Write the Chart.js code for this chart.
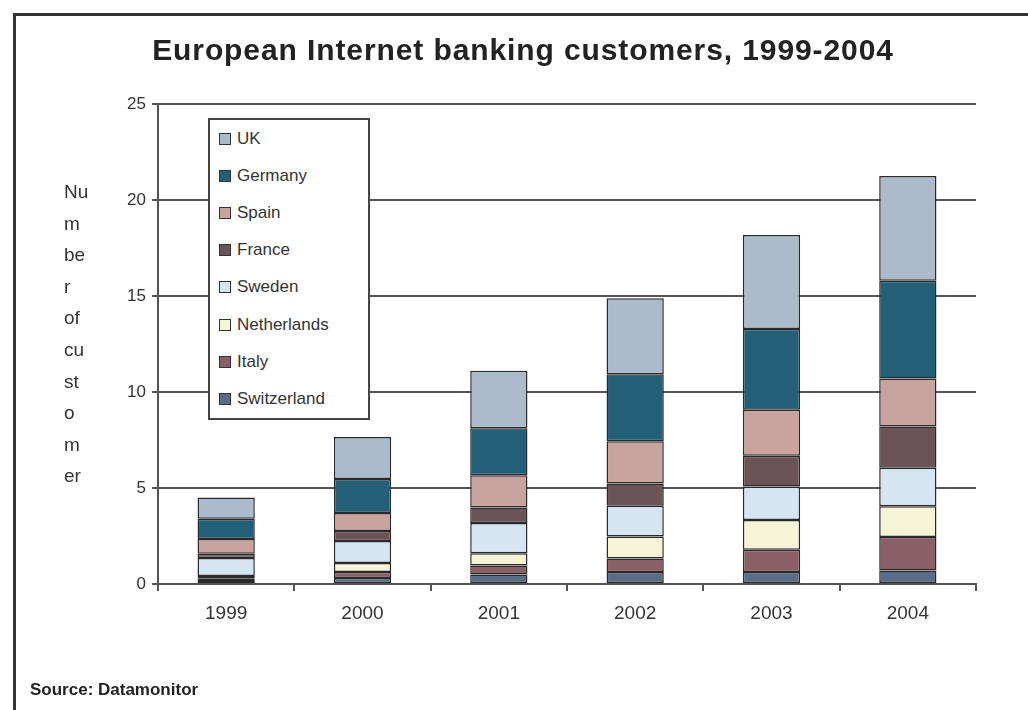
<!DOCTYPE html>
<html>
<head>
<meta charset="utf-8">
<script src="https://cdn.jsdelivr.net/npm/chart.js@4.4.1/dist/chart.umd.min.js"></script>
<style>
  html, body { margin: 0; padding: 0; background: #fff; }
  #wrap { position: relative; width: 1028px; height: 710px; overflow: hidden; font-family: "Liberation Sans", Arial, sans-serif; color: #333; }
  #frame { position: absolute; left: 13px; top: 13px; width: 1100px; height: 800px; border-left: 3px solid #333; border-top: 3px solid #333; }
  #title { position: absolute; left: 0; width: 1046px; top: 33px; text-align: center; font-weight: bold; font-size: 30px; letter-spacing: 0.9px; color: #222; }
  #ytitle { position: absolute; left: 64px; top: 176px; font-size: 19px; line-height: 31.6px; color: #333; }
  #legend { position: absolute; left: 208px; top: 118px; width: 158px; height: 298px; border: 2px solid #444; background: #fff; }
  .item { position: absolute; left: 9px; height: 20px; font-size: 17px; line-height: 20px; color: #333; white-space: nowrap; }
  .sw { display: inline-block; width: 10px; height: 10px; border: 1px solid #333; margin-right: 6px; vertical-align: -1px; }
  #source { position: absolute; left: 30px; top: 680px; font-weight: bold; font-size: 17px; color: #222; }
  canvas { position: absolute; left: 0; top: 0; }
</style>
</head>
<body>
<div id="wrap">
  <div id="frame"></div>
  <canvas id="chart" width="1028" height="710"></canvas>
  <div id="title">European Internet banking customers, 1999-2004</div>
  <div id="ytitle"></div>
  <div id="legend"></div>
  <div id="source">Source: Datamonitor</div>
</div>
<script>
// data (millions)
const years = ['1999', '2000', '2001', '2002', '2003', '2004'];
const switzerland = [0.15, 0.31, 0.5, 0.63, 0.63, 0.7];
const italy = [0.15, 0.32, 0.47, 0.7, 1.15, 1.75];
const netherlands = [0.12, 0.47, 0.63, 1.15, 1.55, 1.6];
const sweden = [0.94, 1.14, 1.58, 1.6, 1.75, 2.0];
const france = [0.21, 0.52, 0.8, 1.15, 1.6, 2.15];
const spain = [0.78, 0.94, 1.68, 2.2, 2.4, 2.5];
const germany = [1.05, 1.77, 2.45, 3.5, 4.2, 5.1];
const uk = [1.1, 2.19, 3.0, 3.95, 4.9, 5.45];
const yTicks = [0, 5, 10, 15, 20, 25];
const yTitleLines = ['Nu', 'm', 'be', 'r', 'of', 'cu', 'st', 'o', 'm', 'er'];

// bottom of the stack first
const series = [
  { label: 'Switzerland', data: switzerland, color: '#5a6d88' },
  { label: 'Italy', data: italy, color: '#8b5f68' },
  { label: 'Netherlands', data: netherlands, color: '#f6f4d6' },
  { label: 'Sweden', data: sweden, color: '#d5e5f2' },
  { label: 'France', data: france, color: '#6b5358' },
  { label: 'Spain', data: spain, color: '#c9a39e' },
  { label: 'Germany', data: germany, color: '#235f77' },
  { label: 'UK', data: uk, color: '#abbbcb' }
];

const datasets = series.map(s => ({
  label: s.label,
  data: s.data,
  backgroundColor: s.color,
  borderColor: '#2a2a2a',
  borderWidth: 1.5,
  borderSkipped: false,
  barPercentage: 0.84,
  categoryPercentage: 0.5
}));

// legend box, UK on top
const legend = document.getElementById('legend');
series.slice().reverse().forEach((s, i) => {
  const row = document.createElement('div');
  row.className = 'item';
  row.style.top = (9 + i * 37.1) + 'px';
  row.innerHTML = '<span class="sw" style="background:' + s.color + '"></span>' + s.label;
  legend.appendChild(row);
});

document.getElementById('ytitle').innerHTML = yTitleLines.join('<br>');

new Chart(document.getElementById('chart'), {
  type: 'bar',
  data: { labels: years, datasets: datasets },
  options: {
    responsive: false,
    animation: false,
    layout: { padding: { left: 98, right: 52, top: 104, bottom: 86 } },
    plugins: {
      legend: { display: false },
      title: { display: false },
      tooltip: { enabled: false }
    },
    scales: {
      x: {
        stacked: true,
        afterFit: s => { s.height = 40; },
        grid: { drawOnChartArea: false, drawTicks: true, tickLength: 7, color: '#555', lineWidth: 2 },
        border: { color: '#555', width: 2 },
        ticks: { color: '#333', font: { family: 'Liberation Sans', size: 19 }, padding: 11 }
      },
      y: {
        stacked: true,
        min: 0,
        max: 25,
        afterFit: s => { s.width = 60; },
        afterBuildTicks: s => { s.ticks = yTicks.map(v => ({ value: v })); },
        grid: { color: '#555', lineWidth: 2, tickLength: 6 },
        border: { color: '#555', width: 2 },
        ticks: { color: '#333', font: { family: 'Liberation Sans', size: 17 }, padding: 6 }
      }
    }
  }
});
</script>
</body>
</html>
